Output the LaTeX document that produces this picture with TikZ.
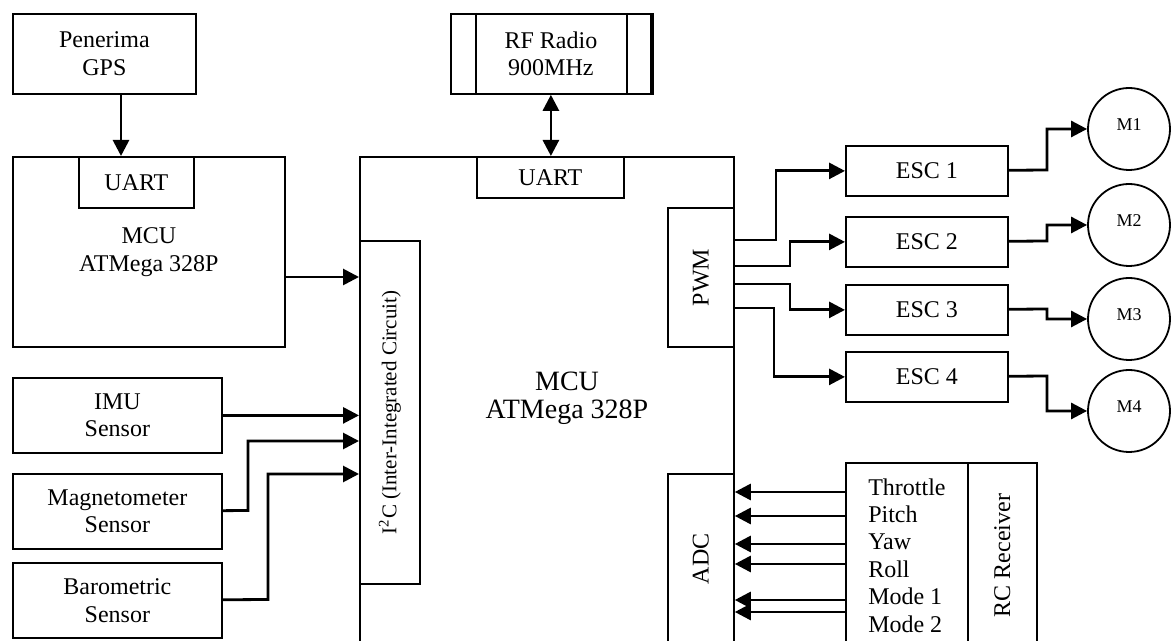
\documentclass[tikz,border=0pt]{standalone}
\usepackage{fontspec}
\setmainfont{Liberation Serif}
\usepackage{tikz}
\usetikzlibrary{arrows.meta,positioning}

\begin{document}
\begin{tikzpicture}[x=0.5pt, y=-0.5pt, font=\fontsize{12}{13.8}\selectfont,
  box/.style={draw, line width=0.9pt, anchor=north west, inner sep=0pt, align=center},
  motor/.style={draw, circle, line width=0.9pt, minimum size=41pt, inner sep=0pt, font=\fontsize{9}{10}\selectfont},
  arr/.style={-{Triangle[length=8pt, width=8pt]}, line width=1.4pt},
  dblarr/.style={{Triangle[length=8pt, width=8pt]}-{Triangle[length=8pt, width=8pt]}, line width=1.4pt}]
\useasboundingbox (0,0) rectangle (1174,641);
\clip (0,0) rectangle (1174,641);
% GPS side
\node[box, minimum width=91.5pt, minimum height=40pt] (gps) at (12,13) {Penerima\\GPS};
\node[box, minimum width=136pt, minimum height=95pt] (lmcu) at (12,156) {MCU\\ATMega 328P};
\node[box, minimum width=57.5pt, minimum height=25.5pt] (luart) at (78,156) {UART};
% sensors
\node[box, minimum width=104.5pt, minimum height=37.5pt] (imu) at (12,377) {IMU\\Sensor};
\node[box, minimum width=104.5pt, minimum height=37.5pt] (mag) at (12,473) {Magnetometer\\Sensor};
\node[box, minimum width=104.5pt, minimum height=37.5pt] (baro) at (12,562) {Barometric\\Sensor};
% main flight controller
\node[box, minimum width=100pt, minimum height=40pt] (rf) at (450,13) {RF Radio\\900MHz};
\draw[line width=0.9pt] ([xshift=13pt]rf.north west) -- ([xshift=13pt]rf.south west)
  ([xshift=-12.5pt]rf.north east) -- ([xshift=-12.5pt]rf.south east);
\draw[line width=2pt] (rf.north east) -- (rf.south east);
\node[box, minimum width=187pt, minimum height=260pt] (mcu) at (359,156) {};
\node[font=\fontsize{14}{14}\selectfont, align=center] (mcutxt) at (567,398) {MCU\\ATMega 328P};
\node[box, minimum width=73.5pt, minimum height=20.5pt] (muart) at (476,156) {UART};
\node[box, minimum width=30pt, minimum height=171.5pt, font=\fontsize{10.5}{12}\selectfont] (i2c) at (359,240)
  {\rotatebox{90}{I\textsuperscript{2}C (Inter-Integrated Circuit)}};
\node[box, minimum width=33pt, minimum height=69.5pt] (pwm) at (667,207) {\rotatebox{90}{PWM}};
\node[box, minimum width=33pt, minimum height=85pt] (adc) at (667,473) {\rotatebox{90}{ADC}};
% ESCs and motors
\node[box, minimum width=81pt, minimum height=25pt] (esc1) at (845,145) {ESC 1};
\node[box, minimum width=81pt, minimum height=25pt] (esc2) at (845,216) {ESC 2};
\node[box, minimum width=81pt, minimum height=25pt] (esc3) at (845,284) {ESC 3};
\node[box, minimum width=81pt, minimum height=25pt] (esc4) at (845,351) {ESC 4};
\node[motor] (m1) at (1129,129) {\raisebox{4.5pt}{M1}};
\node[motor] (m2) at (1129,225) {\raisebox{4.5pt}{M2}};
\node[motor] (m3) at (1129,319) {\raisebox{4.5pt}{M3}};
\node[motor] (m4) at (1129,411) {\raisebox{4.5pt}{M4}};
% RC receiver
\node[box, minimum width=61pt, minimum height=92.5pt, align=left, font=\fontsize{12}{13.7}\selectfont] (rc) at (845,462)
  {Throttle\\Pitch\\Yaw\\Roll\\Mode 1\\Mode 2};
\node[box, minimum width=34.5pt, minimum height=92.5pt] (rcname) at (967,462) {\rotatebox{90}{RC Receiver}};
% connections
\draw[arr] (gps.south -| 121,0) -- (luart.north -| 121,0);
\draw[dblarr] (rf.south) -- (rf.south |- muart.north);
\draw[arr] (lmcu.east |- 0,277) -- (i2c.west |- 0,277);
\draw[arr] (imu) -- (imu -| i2c.west);
\draw[arr] (mag) -- (248,510.5) |- (i2c.west |- 0,441);
\draw[arr] (baro) -- (268,599.5) |- (i2c.west |- 0,474);
\draw[arr] (pwm.east |- 0,240) -- (776,240) |- (esc1);
\draw[arr] (pwm.east |- 0,266) -- (790,266) |- (esc2);
\draw[arr] (pwm.east |- 0,284) -- (790,284) |- (esc3);
\draw[arr] (pwm.east |- 0,308) -- (774,308) |- (esc4);
\draw[arr] (esc1) -- (1047,170) |- (m1);
\draw[arr] (esc2) -- (1047,241) |- (m2);
\draw[arr] (esc3) -- (1047,309) |- (m3);
\draw[arr] (esc4) -- (1047,376) |- (m4);
\draw[arr] (rc.west |- 0,492) -- (adc.east |- 0,492);
\draw[arr] (rc.west |- 0,516) -- (adc.east |- 0,516);
\draw[arr] (rc.west |- 0,544) -- (adc.east |- 0,544);
\draw[arr] (rc.west |- 0,564) -- (adc.east |- 0,564);
\draw[arr] (rc.west |- 0,600) -- (adc.east |- 0,600);
\draw[arr] (rc.west |- 0,612) -- (adc.east |- 0,612);
\end{tikzpicture}
\end{document}
